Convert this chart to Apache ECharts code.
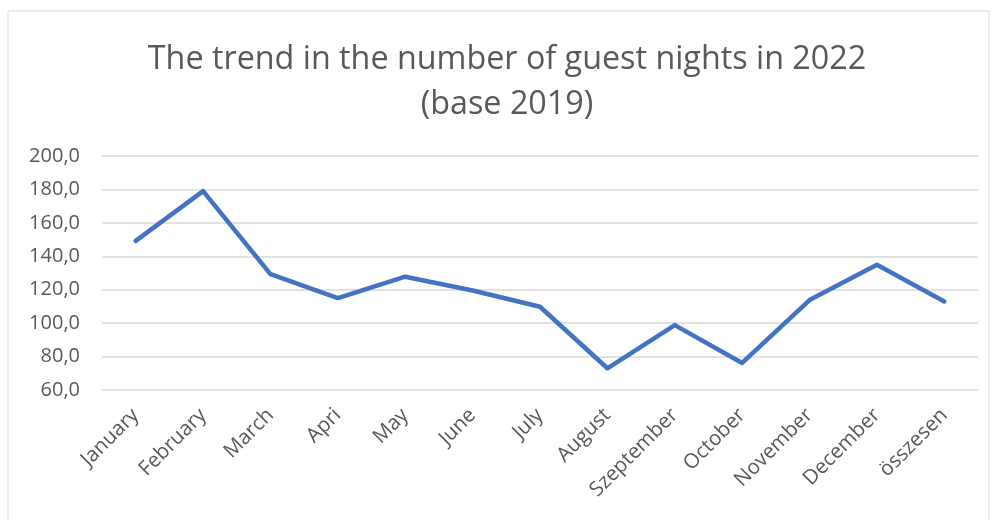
<!DOCTYPE html>
<html>
<head>
<meta charset="utf-8">
<script src="https://cdn.jsdelivr.net/npm/echarts@6/dist/echarts.min.js"></script>
<style>
  html, body { margin: 0; padding: 0; background: #fff; }
  #chart { width: 992px; height: 520px; }
</style>
</head>
<body>
<div id="chart"></div>
<script>
// guest nights 2022, base 2019 = 100
var months = ["January", "February", "March", "Apri", "May", "June", "July",
  "August", "Szeptember", "October", "November", "December", "összesen"];
var guestNights = [149.2, 179.0, 129.3, 115.0, 127.8, 119.5, 109.8,
  73.0, 98.8, 76.2, 113.8, 134.9, 113.0];
var yTicks = { min: 60, max: 200, step: 20 };

var myChart = echarts.init(document.getElementById("chart"));
var option = {
  animation: false,
  textStyle: { fontFamily: "Open Sans, sans-serif" },
  graphic: [{
    type: "rect",
    shape: { x: 8, y: 11, width: 981, height: 520 },
    style: { fill: "none", stroke: "#d9d9d9", lineWidth: 1 }
  }],
  title: {
    text: "The trend in the number of guest nights in 2022\n(base 2019)",
    left: 502,
    textAlign: "center",
    top: 32,
    textStyle: {
      color: "#595959",
      fontSize: 32.3,
      fontWeight: "normal",
      lineHeight: 45,
      fontFamily: "Open Sans, sans-serif"
    }
  },
  grid: { left: 102, right: 14, top: 156, bottom: 130 },
  xAxis: {
    type: "category",
    data: months,
    axisLine: { show: false },
    axisTick: { show: false },
    axisLabel: { rotate: 45, color: "#595959", fontSize: 20.5, margin: 22, interval: 0 }
  },
  yAxis: {
    type: "value",
    min: yTicks.min,
    max: yTicks.max,
    interval: yTicks.step,
    axisLine: { show: false },
    axisTick: { show: false },
    axisLabel: {
      color: "#595959",
      fontSize: 20,
      margin: 22,
      formatter: function (v) { return v.toFixed(1).replace(".", ","); }
    },
    splitLine: { lineStyle: { color: "#d9d9d9", width: 1.5 } }
  },
  series: [{
    type: "line",
    data: guestNights,
    symbol: "none",
    lineStyle: { color: "#4472c4", width: 4.5, cap: "round", join: "round" }
  }]
};
myChart.setOption(option);
</script>
</body>
</html>
